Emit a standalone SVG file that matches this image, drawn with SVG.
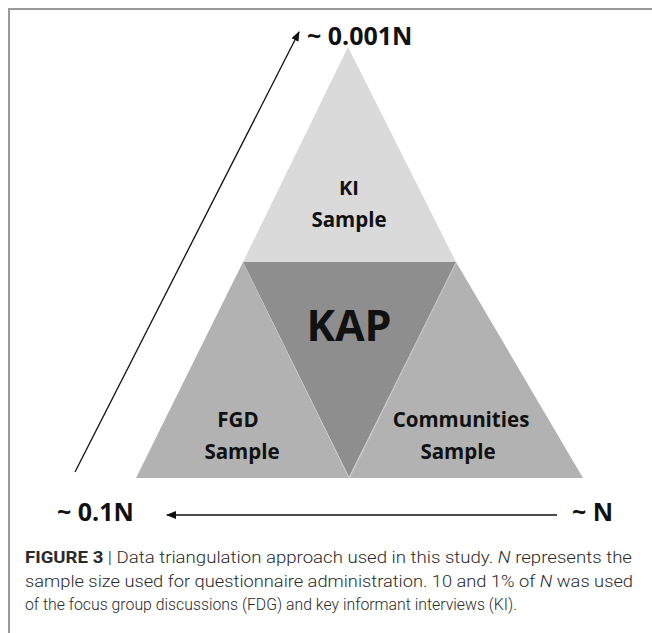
<svg xmlns="http://www.w3.org/2000/svg" width="652" height="633" viewBox="0 0 652 633">
<style>
.lbl{font-family:"Open Sans","Liberation Sans",sans-serif;font-weight:bold;fill:#111;text-anchor:middle}
.lbs{font-family:"Open Sans","Liberation Sans",sans-serif;font-weight:bold;fill:#111;font-size:25px}
.cap{font-family:Roboto,"Liberation Sans",sans-serif;font-weight:300;font-size:16px;fill:#2a2a2a}
.conn{stroke:#111;stroke-width:1.3;fill:none}
</style>
<defs>
<marker id="ah" markerWidth="10" markerHeight="8" refX="9" refY="4" orient="auto" markerUnits="userSpaceOnUse">
<path d="M0,0 L10,4 L0,8 Z" fill="#111"/>
</marker>
</defs>
<rect x="0" y="0" width="652" height="633" fill="#fff"/>
<path d="M9,633 V9 H652" stroke="#9a9a9a" stroke-width="2" fill="none"/>

<g id="ki">
<polygon points="348,47 243,262 456,262" fill="#dadada"/>
<text class="lbl" x="349" y="195" font-size="20">KI</text>
<text class="lbl" x="349" y="227" font-size="20.5">Sample</text>
</g>
<g id="kap">
<polygon points="243,262 456,262 349,477" fill="#8e8e8e"/>
<text class="lbl" x="349" y="341" font-size="43">KAP</text>
</g>
<g id="fgd">
<polygon points="243,262 136,478 349,478" fill="#b2b2b2"/>
<text class="lbl" x="238" y="427" font-size="20.5">FGD</text>
<text class="lbl" x="242" y="459" font-size="20.5">Sample</text>
</g>
<g id="communities">
<polygon points="456,262 349,478 583,478" fill="#b2b2b2"/>
<line x1="456" y1="263" x2="350" y2="477" stroke="#c6c6c6" stroke-width="1"/>
<text class="lbl" x="461" y="427" font-size="20.5">Communities</text>
<text class="lbl" x="458" y="459" font-size="20.5">Sample</text>
</g>

<g id="scale-labels">
<text class="lbs" x="307" y="45">~ 0.001N</text>
<text class="lbs" x="57" y="521">~ 0.1N</text>
<text class="lbs" x="572" y="521">~ N</text>
</g>

<g id="connectors">
<line class="conn" x1="75" y1="472" x2="299" y2="32" marker-end="url(#ah)"/>
<line class="conn" x1="557" y1="515" x2="167" y2="515" marker-end="url(#ah)"/>
</g>

<g id="caption">
<text class="cap" x="25" y="563" textLength="607" lengthAdjust="spacingAndGlyphs"><tspan font-weight="bold">FIGURE 3</tspan> | Data triangulation approach used in this study. <tspan font-style="italic">N</tspan> represents the</text>
<text class="cap" x="25" y="587" textLength="608" lengthAdjust="spacingAndGlyphs">sample size used for questionnaire administration. 10 and 1% of <tspan font-style="italic">N</tspan> was used</text>
<text class="cap" x="25" y="610" textLength="492" lengthAdjust="spacingAndGlyphs">of the focus group discussions (FDG) and key informant interviews (KI).</text>
</g>
</svg>
